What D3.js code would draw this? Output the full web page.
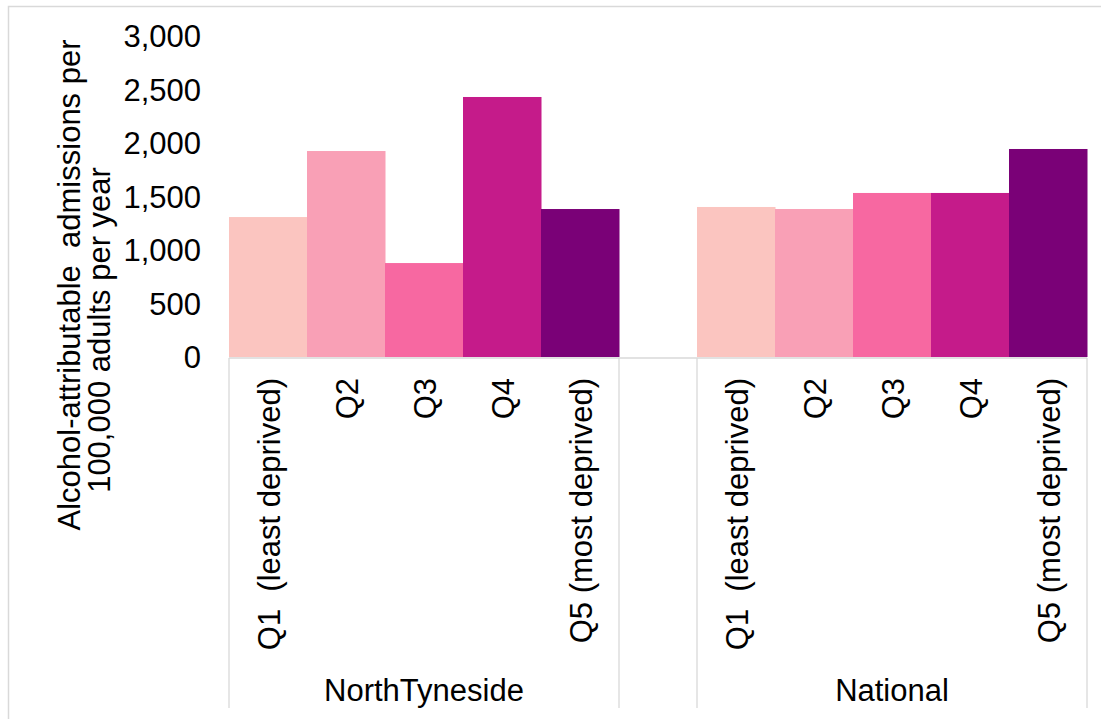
<!DOCTYPE html>
<html>
    <head>
        <title>Alcohol-attributable admissions by deprivation quintile</title>
        <style>
            body {margin:0; background:#fff;}
            text {font-family:"Liberation Sans", Arial, sans-serif; fill:#000;}
            .sep {stroke:#d9d9d9; stroke-width:1.3px;}
        </style>
        <script src="https://d3js.org/d3.v7.min.js"></script>
    </head>
    <body>
        <svg id="chart" width="1101" height="719"></svg>
        <script>
            // data
            var groups = ['NorthTyneside', 'National'];
            var quintiles = ['Q1  (least deprived)', 'Q2', 'Q3', 'Q4', 'Q5 (most deprived)'];
            var northTyneside = [1308, 1925, 878, 2430, 1383];
            var national = [1402, 1383, 1533, 1533, 1944];
            var colours = ['#fbc5c0', '#f9a0b6', '#f768a1', '#c51b8a', '#7a0177'];
            var yTicks = [0, 500, 1000, 1500, 2000, 2500, 3000];
            var fs = 31;

            var svg = d3.select('#chart');

            // slots: 5 bars, one empty slot, 5 bars
            var slots = [];
            quintiles.forEach(function(q, i) { slots.push({key:'NT' + i, group:0, q:i, label:q, value:northTyneside[i]}); });
            slots.push({key:'gap', group:-1});
            quintiles.forEach(function(q, i) { slots.push({key:'NA' + i, group:1, q:i, label:q, value:national[i]}); });

            var x = d3.scaleBand().domain(slots.map(function(d) { return d.key; })).range([229, 1087]).padding(0);
            var y = d3.scaleLinear().domain([0, 3000]).range([357, 36]);

            // outer border (left and top only visible)
            svg.append('path').attr('d', 'M8.5,719 L8.5,6.5 L1101,6.5')
                .attr('fill', 'none').attr('stroke', '#d9d9d9').attr('stroke-width', 1.5);

            // bars
            var bars = slots.filter(function(d) { return d.group >= 0; });
            svg.append('g').selectAll('rect').data(bars).join('rect')
                .attr('x', function(d) { return x(d.key); })
                .attr('width', x.bandwidth() + 0.5)
                .attr('y', function(d) { return y(d.value); })
                .attr('height', function(d) { return y(0) - y(d.value); })
                .attr('fill', function(d) { return colours[d.q]; });

            // y axis
            var yAxis = svg.append('g').attr('transform', 'translate(201,0)')
                .call(d3.axisLeft(y).tickValues(yTicks).tickSize(0).tickPadding(0).tickFormat(d3.format(',')));
            yAxis.select('.domain').remove();
            yAxis.selectAll('text').attr('font-size', fs).attr('font-family', '"Liberation Sans", Arial, sans-serif')
                .attr('fill', '#000').attr('dy', '0.35em').attr('x', 0);

            // category axis line and separators
            svg.append('line').attr('class', 'sep').attr('x1', 229).attr('x2', 1087).attr('y1', y(0) + 1).attr('y2', y(0) + 1);
            var bounds = [x('NT0'), x('gap'), x('NA0'), x('NA4') + x.bandwidth()];
            svg.append('g').selectAll('line').data(bounds).join('line')
                .attr('class', 'sep')
                .attr('x1', function(d) { return d; }).attr('x2', function(d) { return d; })
                .attr('y1', y(0) + 1).attr('y2', 708);

            // quintile labels, rotated
            svg.append('g').selectAll('text').data(bars).join('text')
                .attr('transform', function(d) { return 'translate(' + (x(d.key) + x.bandwidth() / 2 + 12) + ',378) rotate(-90)'; })
                .attr('text-anchor', 'end')
                .attr('font-size', fs)
                .style('white-space', 'pre')
                .text(function(d) { return d.label; });

            // group labels
            svg.append('g').selectAll('text').data(groups).join('text')
                .attr('x', function(d, i) { return (bounds[i * 2] + bounds[i * 2 + 1]) / 2; })
                .attr('y', 701)
                .attr('text-anchor', 'middle')
                .attr('font-size', fs)
                .text(function(d) { return d; });

            // y axis title
            var title = svg.append('g');
            title.append('text').attr('transform', 'translate(80,285) rotate(-90)')
                .attr('text-anchor', 'middle').attr('font-size', fs).style('white-space', 'pre')
                .text('Alcohol-attributable  admissions per');
            title.append('text').attr('transform', 'translate(110,330) rotate(-90)')
                .attr('text-anchor', 'middle').attr('font-size', fs)
                .text('100,000 adults per year');
        </script>
    </body>
</html>
